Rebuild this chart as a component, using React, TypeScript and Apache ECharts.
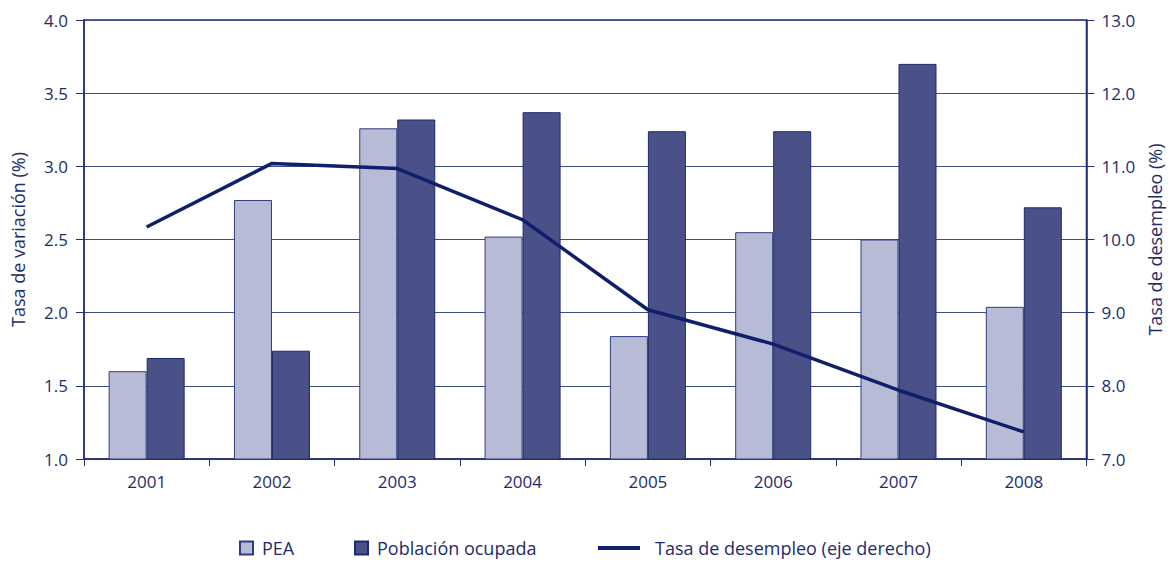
import React, { useEffect, useRef } from "react";
import * as echarts from "echarts";

const years = ["2001", "2002", "2003", "2004", "2005", "2006", "2007", "2008"];
const pea = [1.6, 2.77, 3.26, 2.52, 1.84, 2.55, 2.5, 2.04];
const poblacion = [1.69, 1.74, 3.32, 3.37, 3.24, 3.24, 3.7, 2.72];
const desempleo = [10.17, 11.04, 10.97, 10.27, 9.04, 8.57, 7.94, 7.37];

const TEXT = "#1e2b6b";
const AXIS = "#1f2f7a";
const FONT = "Open Sans";

export default function App() {
  const ref = useRef<HTMLDivElement>(null);
  useEffect(() => {
    if (!ref.current) return;
    const chart = echarts.init(ref.current, undefined, { renderer: "svg" });
    const legendText = { color: TEXT, fontSize: 18, fontFamily: FONT, padding: [0, 0, 0, 4] };
    chart.setOption({
      animation: false,
      backgroundColor: "#ffffff",
      textStyle: { fontFamily: FONT },
      grid: {
        left: 84,
        right: 79,
        top: 20,
        bottom: 103,
        show: true,
        borderColor: AXIS,
        borderWidth: 1.5,
      },
      legend: [
        {
          data: ["PEA"],
          left: 239,
          top: 539,
          padding: 0,
          icon: "rect",
          itemWidth: 13,
          itemHeight: 13,
          textStyle: legendText,
        },
        {
          data: ["Población ocupada"],
          left: 354,
          top: 539,
          padding: 0,
          icon: "rect",
          itemWidth: 13,
          itemHeight: 13,
          textStyle: legendText,
        },
        {
          data: ["Tasa de desempleo (eje derecho)"],
          left: 598,
          top: 539,
          padding: 0,
          icon: "rect",
          itemWidth: 42,
          itemHeight: 4,
          textStyle: { ...legendText, padding: [0, 0, 0, 10] },
        },
      ],
      xAxis: {
        type: "category",
        data: years,
        axisLine: { lineStyle: { color: AXIS, width: 1.5 } },
        axisTick: { show: true, length: 7, lineStyle: { color: AXIS, width: 1 } },
        axisLabel: { color: TEXT, fontSize: 17, fontFamily: FONT, margin: 14 },
      },
      yAxis: [
        {
          type: "value",
          min: 1,
          max: 4,
          interval: 0.5,
          name: "Tasa de variación (%)",
          nameLocation: "middle",
          nameRotate: 90,
          nameGap: 57,
          nameTextStyle: { color: TEXT, fontSize: 18, fontFamily: FONT },
          axisLine: { show: true, lineStyle: { color: AXIS, width: 1.5 } },
          axisTick: { show: true, length: 8, lineStyle: { color: AXIS, width: 1 } },
          axisLabel: {
            color: TEXT,
            fontSize: 17,
            fontFamily: FONT,
            margin: 16,
            formatter: (v: number) => v.toFixed(1),
          },
          splitLine: { show: true, lineStyle: { color: "#3d4c8c", width: 1 } },
        },
        {
          type: "value",
          min: 7,
          max: 13,
          interval: 1,
          name: "Tasa de desempleo (%)",
          nameLocation: "middle",
          nameRotate: 90,
          nameGap: 59,
          nameTextStyle: { color: TEXT, fontSize: 18, fontFamily: FONT },
          axisLine: { show: true, lineStyle: { color: AXIS, width: 1.5 } },
          axisTick: { show: true, length: 8, lineStyle: { color: AXIS, width: 1 } },
          axisLabel: {
            color: TEXT,
            fontSize: 17,
            fontFamily: FONT,
            margin: 15,
            formatter: (v: number) => v.toFixed(1),
          },
          splitLine: { show: false },
        },
      ],
      series: [
        {
          name: "PEA",
          type: "bar",
          data: pea,
          barWidth: 38,
          barGap: "0%",
          itemStyle: { color: "#b8bbd6", borderColor: "#2e3d80", borderWidth: 1 },
        },
        {
          name: "Población ocupada",
          type: "bar",
          data: poblacion,
          barWidth: 38,
          barGap: "0%",
          itemStyle: { color: "#4a5088", borderColor: "#1c2a6e", borderWidth: 1 },
        },
        {
          name: "Tasa de desempleo (eje derecho)",
          type: "line",
          yAxisIndex: 1,
          data: desempleo,
          symbol: "none",
          lineStyle: { color: "#0f1f6b", width: 3.5 },
          itemStyle: { color: "#0f1f6b" },
        },
      ],
    });
    return () => chart.dispose();
  }, []);
  return (
    <div
      ref={ref}
      style={{ position: "absolute", left: 0, top: 0, width: 1172, height: 562 }}
    />
  );
}
